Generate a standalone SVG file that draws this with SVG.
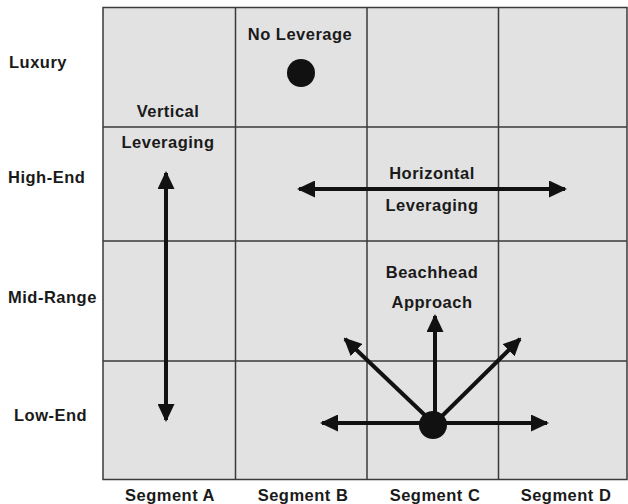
<svg xmlns="http://www.w3.org/2000/svg" width="628" height="504" viewBox="0 0 628 504">
  <defs>
    <style>
      .lbl { font-family: "Liberation Sans", Arial, sans-serif; font-weight: bold; font-size: 16.5px; letter-spacing: 0.5px; fill: #1a1a1a; }
      .mid { text-anchor: middle; }
      .grid { stroke: #3a3a3a; stroke-width: 1.5; fill: none; }
      .arrow { stroke: #111; stroke-width: 4; fill: none; marker-end: url(#head); }
      .both { marker-start: url(#head); }
    </style>
    <marker id="head" viewBox="0 0 18 17" refX="16" refY="8.5" markerWidth="18" markerHeight="17" markerUnits="userSpaceOnUse" orient="auto-start-reverse">
      <path d="M0,0 L18,8.5 L0,17 Z" fill="#111"/>
    </marker>
  </defs>

  <rect width="628" height="504" fill="#ffffff"/>

  <!-- 4x4 positioning matrix -->
  <g id="matrix">
    <rect x="103" y="7.5" width="524" height="472" fill="#e2e2e2"/>
    <g class="grid">
      <rect x="103" y="7.5" width="524" height="472"/>
      <line x1="235.5" y1="7.5" x2="235.5" y2="479.5"/>
      <line x1="367" y1="7.5" x2="367" y2="479.5"/>
      <line x1="498.5" y1="7.5" x2="498.5" y2="479.5"/>
      <line x1="103" y1="127" x2="627" y2="127"/>
      <line x1="103" y1="241" x2="627" y2="241"/>
      <line x1="103" y1="361" x2="627" y2="361"/>
    </g>
  </g>

  <!-- row labels -->
  <g id="row-labels">
    <text class="lbl" x="9" y="68">Luxury</text>
    <text class="lbl" x="8" y="182.5">High-End</text>
    <text class="lbl" x="8" y="302.5">Mid-Range</text>
    <text class="lbl" x="14" y="420.5">Low-End</text>
  </g>

  <!-- column labels -->
  <g id="column-labels">
    <text class="lbl mid" x="170" y="500.5">Segment A</text>
    <text class="lbl mid" x="303" y="500.5">Segment B</text>
    <text class="lbl mid" x="435" y="500.5">Segment C</text>
    <text class="lbl mid" x="566" y="500.5">Segment D</text>
  </g>

  <!-- no leverage -->
  <g id="no-leverage">
    <text class="lbl mid" x="300" y="39.5">No Leverage</text>
    <circle cx="301" cy="73" r="14" fill="#111"/>
  </g>

  <!-- vertical leveraging -->
  <g id="vertical-leveraging">
    <text class="lbl mid" x="168" y="117">Vertical</text>
    <text class="lbl mid" x="168" y="148">Leveraging</text>
  </g>

  <!-- horizontal leveraging -->
  <g id="horizontal-leveraging">
    <text class="lbl mid" x="432" y="179">Horizontal</text>
    <text class="lbl mid" x="432" y="210.5">Leveraging</text>
  </g>

  <!-- beachhead approach -->
  <g id="beachhead">
    <text class="lbl mid" x="432" y="277.5">Beachhead</text>
    <text class="lbl mid" x="432" y="307.5">Approach</text>
    <circle cx="433" cy="425" r="14" fill="#111"/>
  </g>

  <!-- connectors -->
  <g id="connectors">
    <line class="arrow both" x1="166" y1="173" x2="166" y2="420"/>
    <line class="arrow both" x1="299" y1="189" x2="565" y2="189"/>
    <line class="arrow both" x1="322" y1="423" x2="547" y2="423"/>
    <line class="arrow" x1="435" y1="422" x2="435" y2="316"/>
    <line class="arrow" x1="431" y1="421" x2="345" y2="339"/>
    <line class="arrow" x1="437" y1="421" x2="520" y2="339"/>
  </g>
</svg>
